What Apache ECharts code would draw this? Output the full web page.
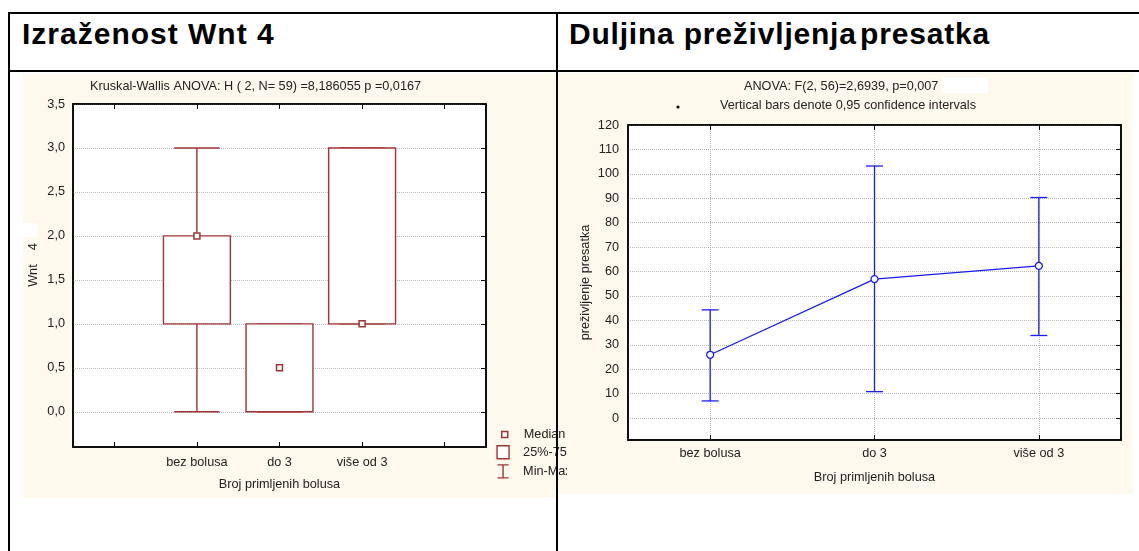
<!DOCTYPE html>
<html>
<head>
<meta charset="utf-8">
<script src="https://cdn.jsdelivr.net/npm/echarts@6/dist/echarts.min.js"></script>
<style>
html,body{margin:0;padding:0;background:#fff;width:1139px;height:551px;overflow:hidden;}
.ln{position:absolute;background:#000;z-index:5;}
.hd{position:absolute;font-family:"Liberation Sans",Arial,sans-serif;font-weight:bold;font-size:30px;line-height:30px;letter-spacing:1px;color:#000;white-space:nowrap;}
.cream{position:absolute;background:#fff8ec;}
#c1{position:absolute;left:23px;top:74px;width:544px;height:424px;z-index:3;}
#c2{position:absolute;left:558px;top:73px;width:575px;height:421px;z-index:2;}
</style>
</head>
<body>
<div class="hd" style="left:22px;top:19px;">Izraženost Wnt 4</div>
<div class="hd" style="left:569px;top:19px;letter-spacing:0.8px;">Duljina preživljenja<span style="letter-spacing:-5px"> </span>presatka</div>
<div class="cream" style="left:23px;top:74px;width:534px;height:424px;z-index:1;"></div>
<div class="cream" style="left:558px;top:73px;width:575px;height:421px;z-index:1;"></div>
<div id="c1"></div>
<div id="c2"></div>
<div class="ln" style="left:8px;top:12px;width:1131px;height:2px;"></div>
<div class="ln" style="left:8px;top:70px;width:1131px;height:2px;"></div>
<div class="ln" style="left:8px;top:12px;width:2px;height:539px;"></div>
<div class="ln" style="left:556px;top:12px;width:2px;height:539px;"></div>
<script>
// ---------- data ----------
const groups = ['bez bolusa', 'do 3', 'više od 3'];
// Wnt 4 (box plot: min, 25%, median, 75%, max)
const wntMin = [0, 0, 1];
const wntQ1 = [1, 0, 1];
const wntMedian = [2, 0.5, 1];
const wntQ3 = [2, 1, 3];
const wntMax = [3, 1, 3];
const wntTicks = [0, 0.5, 1, 1.5, 2, 2.5, 3, 3.5];
// Survival (mean with 0.95 CI)
const survMean = [25.9, 56.9, 62.3];
const survLow = [7.0, 10.8, 33.8];
const survHigh = [44.3, 103.2, 90.3];
const survTicks = [0, 10, 20, 30, 40, 50, 60, 70, 80, 90, 100, 110, 120];

const FONT = '"Liberation Sans", Arial, sans-serif';
const FS = 12.7;
const TXT = '#222';
const RED = '#a03434';
const BLUE = '#1a1aff';
const GRIDC = '#b8b8b8';

// ---------- left chart ----------
const wntSlots = [' '].concat(groups, ['  ']);
const boxData = groups.map((g, i) => [g, wntMin[i], wntQ1[i], wntMedian[i], wntQ3[i], wntMax[i]]);
const medData = groups.map((g, i) => [g, wntMedian[i]]);
const fmtComma = v => Number(v).toFixed(1).replace('.', ',');

function renderBox(params, api) {
  const x = api.value(0);
  const band = api.size([1, 0])[0];
  const p1 = api.coord([x, api.value(2)]);
  const p3 = api.coord([x, api.value(4)]);
  const bw = band * 0.81;
  return {
    type: 'rect',
    shape: { x: p1[0] - bw / 2, y: p3[1], width: bw, height: p1[1] - p3[1] },
    style: { fill: '#fff', stroke: RED, lineWidth: 1.4 }
  };
}
function renderWhisker(params, api) {
  const x = api.value(0);
  const band = api.size([1, 0])[0];
  const pMin = api.coord([x, api.value(1)]);
  const p1 = api.coord([x, api.value(2)]);
  const p3 = api.coord([x, api.value(4)]);
  const pMax = api.coord([x, api.value(5)]);
  const cw = band * 0.55;
  const cx = p1[0];
  const st = { stroke: RED, lineWidth: 1.4 };
  return {
    type: 'group',
    children: [
      { type: 'line', shape: { x1: cx, y1: pMax[1], x2: cx, y2: p3[1] }, style: st },
      { type: 'line', shape: { x1: cx, y1: p1[1], x2: cx, y2: pMin[1] }, style: st },
      { type: 'line', shape: { x1: cx - cw / 2, y1: pMax[1], x2: cx + cw / 2, y2: pMax[1] }, style: st },
      { type: 'line', shape: { x1: cx - cw / 2, y1: pMin[1], x2: cx + cw / 2, y2: pMin[1] }, style: st }
    ]
  };
}

const c1 = echarts.init(document.getElementById('c1'), null, { renderer: 'canvas' });
c1.setOption({
  animation: false,
  textStyle: { fontFamily: FONT, color: TXT },
  title: {
    text: 'Kruskal-Wallis ANOVA: H ( 2, N= 59) =8,186055 p =0,0167',
    left: 67, top: 6, padding: 0,
    textStyle: { fontSize: FS, fontWeight: 'normal', color: TXT, fontFamily: FONT }
  },
  grid: {
    left: 50, top: 30, width: 413, height: 343,
    show: true, backgroundColor: '#fff', borderColor: '#000', borderWidth: 1.5,
    outerBoundsMode: 'none', containLabel: false
  },
  legend: [
    {
      data: [{ name: 'Median', icon: 'rect', itemStyle: { color: '#fff', borderColor: RED, borderWidth: 1.5 } }],
      orient: 'vertical', left: 478, top: 354, padding: 0,
      itemWidth: 6, itemHeight: 6, selectedMode: false,
      textStyle: { fontSize: FS, color: TXT, fontFamily: FONT, padding: [0, 0, 0, 11] }
    },
    {
      data: [
        { name: '25%-75%', icon: 'rect', itemStyle: { color: '#fff', borderColor: RED, borderWidth: 1.4 } },
        { name: 'Min-Max', icon: 'path://M0,0H12M6,0V14M0,14H12', itemStyle: { color: 'none', borderColor: RED, borderWidth: 1.4 } }
      ],
      orient: 'vertical', left: 472, top: 371, padding: 0,
      itemWidth: 12, itemHeight: 13, itemGap: 3, selectedMode: false,
      textStyle: { fontSize: FS, color: TXT, fontFamily: FONT, padding: [0, 0, 0, 9] }
    }
  ],
  xAxis: [
    {
      type: 'category', data: wntSlots, boundaryGap: true,
      name: 'Broj primljenih bolusa', nameLocation: 'middle', nameGap: 31,
      nameTextStyle: { fontSize: FS, color: TXT, fontFamily: FONT },
      axisLine: { show: true, onZero: false, lineStyle: { color: '#000', width: 1.5 } },
      axisTick: { show: true, inside: true, alignWithLabel: true, length: 5, lineStyle: { color: '#000' } },
      axisLabel: { show: true, margin: 9, fontSize: FS, color: TXT, fontFamily: FONT, interval: 0 },
      splitLine: { show: false }
    },
    {
      type: 'category', data: wntSlots, boundaryGap: true, position: 'top',
      axisLine: { show: true, onZero: false, lineStyle: { color: '#000', width: 1.5 } },
      axisTick: { show: true, inside: true, alignWithLabel: true, length: 5, lineStyle: { color: '#000' } },
      axisLabel: { show: false }, splitLine: { show: false }
    }
  ],
  yAxis: [
    {
      type: 'value', min: -0.4, max: 3.5,
      axisLine: { show: true, onZero: false, lineStyle: { color: '#000', width: 1.5 } },
      axisTick: { show: false, customValues: wntTicks },
      axisLabel: { customValues: wntTicks, formatter: fmtComma, margin: 8, fontSize: FS, color: TXT, fontFamily: FONT },
      splitLine: { show: true, lineStyle: { color: GRIDC, type: 'dotted', width: 1 } }
    },
    {
      type: 'value', min: -0.4, max: 3.5, position: 'right',
      axisLine: { show: true, onZero: false, lineStyle: { color: '#000', width: 1.5 } },
      axisTick: { show: true, inside: true, length: 5, customValues: wntTicks, lineStyle: { color: '#000' } },
      axisLabel: { show: false, customValues: wntTicks }, splitLine: { show: false }
    }
  ],
  graphic: [
    { type: 'text', x: 10, y: 191, rotation: Math.PI / 2,
      style: { text: 'Wnt    4', fill: TXT, font: FS + 'px ' + FONT, align: 'center', verticalAlign: 'middle' } },
    { type: 'rect', shape: { x: 0, y: 149, width: 14, height: 14 }, style: { fill: '#fff' }, z: -1 }
  ],
  series: [
    { name: 'Min-Max', type: 'custom', renderItem: renderWhisker, data: boxData,
      encode: { x: 0, y: [1, 2, 3, 4, 5] }, z: 2, itemStyle: { color: RED } },
    { name: '25%-75%', type: 'custom', renderItem: renderBox, data: boxData,
      encode: { x: 0, y: [1, 2, 3, 4, 5] }, z: 3, itemStyle: { color: RED } },
    { name: 'Median', type: 'scatter', data: medData, symbol: 'rect', symbolSize: 6, z: 5,
      itemStyle: { color: '#fff', borderColor: RED, borderWidth: 1.5, opacity: 1 } }
  ]
});

// ---------- right chart ----------
const ciData = groups.map((g, i) => [g, survLow[i], survHigh[i]]);
function renderCI(params, api) {
  const x = api.value(0);
  const band = api.size([1, 0])[0];
  const lo = api.coord([x, api.value(1)]);
  const hi = api.coord([x, api.value(2)]);
  const cw = band * 0.103;
  const st = { stroke: BLUE, lineWidth: 1.3 };
  return {
    type: 'group',
    children: [
      { type: 'line', shape: { x1: lo[0], y1: lo[1], x2: hi[0], y2: hi[1] }, style: st },
      { type: 'line', shape: { x1: lo[0] - cw / 2, y1: lo[1], x2: lo[0] + cw / 2, y2: lo[1] }, style: st },
      { type: 'line', shape: { x1: hi[0] - cw / 2, y1: hi[1], x2: hi[0] + cw / 2, y2: hi[1] }, style: st }
    ]
  };
}

const c2 = echarts.init(document.getElementById('c2'), null, { renderer: 'canvas' });
c2.setOption({
  animation: false,
  textStyle: { fontFamily: FONT, color: TXT },
  title: [
    { text: 'ANOVA: F(2, 56)=2,6939, p=0,007', left: 186, top: 7, padding: 0,
      textStyle: { fontSize: FS, fontWeight: 'normal', color: TXT, fontFamily: FONT } },
    { text: 'Vertical bars denote 0,95 confidence intervals', left: 162, top: 26, padding: 0,
      textStyle: { fontSize: FS, fontWeight: 'normal', color: TXT, fontFamily: FONT } }
  ],
  grid: {
    left: 70, top: 52, width: 493, height: 315,
    show: true, backgroundColor: '#fff', borderColor: '#000', borderWidth: 1.5,
    outerBoundsMode: 'none', containLabel: false
  },
  xAxis: [
    {
      type: 'category', data: groups, boundaryGap: true,
      name: 'Broj primljenih bolusa', nameLocation: 'middle', nameGap: 31,
      nameTextStyle: { fontSize: FS, color: TXT, fontFamily: FONT },
      axisLine: { show: true, onZero: false, lineStyle: { color: '#000', width: 1.5 } },
      axisTick: { show: true, inside: true, alignWithLabel: true, length: 5, lineStyle: { color: '#000' } },
      axisLabel: { margin: 7, fontSize: FS, color: TXT, fontFamily: FONT, interval: 0 },
      splitLine: { show: true, alignWithLabel: true, lineStyle: { color: GRIDC, type: 'dotted', width: 1 } }
    },
    {
      type: 'category', data: groups, boundaryGap: true, position: 'top',
      axisLine: { show: true, onZero: false, lineStyle: { color: '#000', width: 1.5 } },
      axisTick: { show: true, inside: true, alignWithLabel: true, length: 5, lineStyle: { color: '#000' } },
      axisLabel: { show: false }, splitLine: { show: false }
    }
  ],
  yAxis: [
    {
      type: 'value', min: -9, max: 120,
      name: 'preživljenje presatka', nameLocation: 'middle', nameGap: 36, nameMoveOverlap: false,
      nameTextStyle: { fontSize: FS, color: TXT, fontFamily: FONT },
      axisLine: { show: true, onZero: false, lineStyle: { color: '#000', width: 1.5 } },
      axisTick: { show: false, customValues: survTicks },
      axisLabel: { customValues: survTicks, margin: 9, fontSize: FS, color: TXT, fontFamily: FONT },
      splitLine: { show: true, lineStyle: { color: GRIDC, type: 'dotted', width: 1 } }
    },
    {
      type: 'value', min: -9, max: 120, position: 'right',
      axisLine: { show: true, onZero: false, lineStyle: { color: '#000', width: 1.5 } },
      axisTick: { show: true, inside: true, length: 5, customValues: survTicks, lineStyle: { color: '#000' } },
      axisLabel: { show: false, customValues: survTicks }, splitLine: { show: false }
    }
  ],
  graphic: [
    { type: 'circle', shape: { cx: 120, cy: 34, r: 1.6 }, style: { fill: '#000' } },
    { type: 'rect', shape: { x: 384, y: 4, width: 46, height: 16 }, style: { fill: '#fff' } }
  ],
  series: [
    { name: 'CI', type: 'custom', renderItem: renderCI, data: ciData,
      encode: { x: 0, y: [1, 2] }, z: 2 },
    { name: 'Mean', type: 'line', data: survMean, symbol: 'circle', symbolSize: 7, z: 4,
      lineStyle: { color: BLUE, width: 1.3 },
      itemStyle: { color: '#fff', borderColor: BLUE, borderWidth: 1.3 } }
  ]
});
</script>
</body>
</html>
